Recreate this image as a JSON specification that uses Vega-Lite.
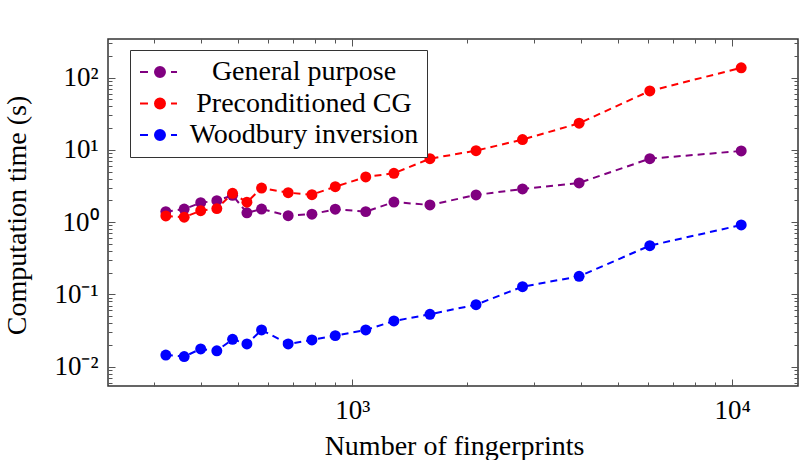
{
  "$schema": "https://vega.github.io/schema/vega-lite/v6.json",
  "width": 690,
  "height": 347,
  "autosize": "none",
  "padding": {"left": 108, "top": 39, "right": 2, "bottom": 74},
  "config": {
    "view": {"stroke": "#333333", "strokeWidth": 1.5},
    "font": "Liberation Serif"
  },
  "data": {
    "values": [
      {"n": 323, "t": 1.40, "method": "General purpose"},
      {"n": 361, "t": 1.52, "method": "General purpose"},
      {"n": 399, "t": 1.86, "method": "General purpose"},
      {"n": 440, "t": 1.98, "method": "General purpose"},
      {"n": 484, "t": 2.35, "method": "General purpose"},
      {"n": 528, "t": 1.35, "method": "General purpose"},
      {"n": 577, "t": 1.52, "method": "General purpose"},
      {"n": 678, "t": 1.23, "method": "General purpose"},
      {"n": 783, "t": 1.29, "method": "General purpose"},
      {"n": 902, "t": 1.51, "method": "General purpose"},
      {"n": 1085, "t": 1.40, "method": "General purpose"},
      {"n": 1287, "t": 1.90, "method": "General purpose"},
      {"n": 1601, "t": 1.73, "method": "General purpose"},
      {"n": 2117, "t": 2.38, "method": "General purpose"},
      {"n": 2806, "t": 2.88, "method": "General purpose"},
      {"n": 3954, "t": 3.49, "method": "General purpose"},
      {"n": 6069, "t": 7.57, "method": "General purpose"},
      {"n": 10561, "t": 9.67, "method": "General purpose"},
      {"n": 323, "t": 1.22, "method": "Preconditioned CG"},
      {"n": 361, "t": 1.17, "method": "Preconditioned CG"},
      {"n": 399, "t": 1.44, "method": "Preconditioned CG"},
      {"n": 440, "t": 1.54, "method": "Preconditioned CG"},
      {"n": 484, "t": 2.51, "method": "Preconditioned CG"},
      {"n": 528, "t": 1.89, "method": "Preconditioned CG"},
      {"n": 577, "t": 2.97, "method": "Preconditioned CG"},
      {"n": 678, "t": 2.56, "method": "Preconditioned CG"},
      {"n": 783, "t": 2.40, "method": "Preconditioned CG"},
      {"n": 902, "t": 3.10, "method": "Preconditioned CG"},
      {"n": 1085, "t": 4.22, "method": "Preconditioned CG"},
      {"n": 1287, "t": 4.75, "method": "Preconditioned CG"},
      {"n": 1601, "t": 7.57, "method": "Preconditioned CG"},
      {"n": 2117, "t": 9.77, "method": "Preconditioned CG"},
      {"n": 2806, "t": 13.9, "method": "Preconditioned CG"},
      {"n": 3954, "t": 23.4, "method": "Preconditioned CG"},
      {"n": 6069, "t": 65.5, "method": "Preconditioned CG"},
      {"n": 10561, "t": 137, "method": "Preconditioned CG"},
      {"n": 323, "t": 0.0145, "method": "Woodbury inversion"},
      {"n": 361, "t": 0.0138, "method": "Woodbury inversion"},
      {"n": 399, "t": 0.0176, "method": "Woodbury inversion"},
      {"n": 440, "t": 0.0166, "method": "Woodbury inversion"},
      {"n": 484, "t": 0.0239, "method": "Woodbury inversion"},
      {"n": 528, "t": 0.0206, "method": "Woodbury inversion"},
      {"n": 577, "t": 0.0322, "method": "Woodbury inversion"},
      {"n": 678, "t": 0.0206, "method": "Woodbury inversion"},
      {"n": 783, "t": 0.0234, "method": "Woodbury inversion"},
      {"n": 902, "t": 0.0269, "method": "Woodbury inversion"},
      {"n": 1085, "t": 0.0322, "method": "Woodbury inversion"},
      {"n": 1287, "t": 0.0429, "method": "Woodbury inversion"},
      {"n": 1601, "t": 0.0531, "method": "Woodbury inversion"},
      {"n": 2117, "t": 0.0721, "method": "Woodbury inversion"},
      {"n": 2806, "t": 0.128, "method": "Woodbury inversion"},
      {"n": 3954, "t": 0.178, "method": "Woodbury inversion"},
      {"n": 6069, "t": 0.473, "method": "Woodbury inversion"},
      {"n": 10561, "t": 0.914, "method": "Woodbury inversion"}
    ]
  },
  "layer": [
    {
      "encoding": {
        "x": {
          "field": "n", "type": "quantitative",
          "scale": {"type": "log", "domain": [227.5, 14900], "nice": false},
          "axis": {
            "orient": "bottom",
            "title": "Number of fingerprints",
            "titleFont": "Liberation Serif", "titleFontSize": 28, "titleFontWeight": "normal", "titleColor": "#000000",
            "titleX": 346, "titleY": 68, "titleBaseline": "alphabetic",
            "domain": false, "grid": false,
            "values": [300, 400, 500, 600, 700, 800, 900, 1000, 2000, 3000, 4000, 5000, 6000, 7000, 8000, 9000, 10000],
            "labelExpr": "datum.value == 1000 ? '10³' : datum.value == 10000 ? '10⁴' : ''",
            "labelFont": "Liberation Serif", "labelFontSize": 27, "labelColor": "#000000",
            "labelPadding": 18, "labelFlush": false, "labelOverlap": false,
            "tickColor": "#555555", "tickWidth": 1,
            "tickSize": {"condition": {"test": "abs(log(datum.value)/LN10 - round(log(datum.value)/LN10)) < 0.000001", "value": -7}, "value": -4}
          }
        },
        "y": {
          "field": "t", "type": "quantitative",
          "scale": {"type": "log", "domain": [0.0054, 343], "nice": false},
          "axis": {
            "orient": "left",
            "title": "Computation time (s)",
            "titleFont": "Liberation Serif", "titleFontSize": 28, "titleFontWeight": "normal", "titleColor": "#000000",
            "titleX": -91, "titleY": 176, "titleBaseline": "middle", "titleAngle": -90,
            "domain": false, "grid": false,
            "values": [0.006, 0.007, 0.008, 0.009, 0.01, 0.02, 0.03, 0.04, 0.05, 0.06, 0.07, 0.08, 0.09, 0.1, 0.2, 0.3, 0.4, 0.5, 0.6, 0.7, 0.8, 0.9, 1, 2, 3, 4, 5, 6, 7, 8, 9, 10, 20, 30, 40, 50, 60, 70, 80, 90, 100, 200, 300],
            "labelExpr": "datum.value == 0.01 ? '10⁻²' : datum.value == 0.1 ? '10⁻¹' : datum.value == 1 ? '10⁰' : datum.value == 10 ? '10¹' : datum.value == 100 ? '10²' : ''",
            "labelFont": "Liberation Serif", "labelFontSize": 27, "labelColor": "#000000",
            "labelPadding": 17, "labelFlush": false, "labelOverlap": false,
            "tickColor": "#555555", "tickWidth": 1,
            "tickSize": {"condition": {"test": "abs(log(datum.value)/LN10 - round(log(datum.value)/LN10)) < 0.000001", "value": -7}, "value": -4}
          }
        },
        "color": {
          "field": "method", "type": "nominal",
          "scale": {"domain": ["General purpose", "Preconditioned CG", "Woodbury inversion"], "range": ["#800080", "#ff0000", "#0000ff"]},
          "legend": {
            "orient": "none", "legendX": 22, "legendY": 11,
            "title": null,
            "strokeColor": "#333333", "fillColor": "#ffffff", "padding": 8,
            "rowPadding": 3.5,
            "labelFont": "Liberation Serif", "labelFontSize": 28, "labelColor": "#000000",
            "labelAlign": "center", "labelOffset": 138, "labelLimit": 400,
            "symbolType": "M-2,0L-0.67,0M2.16,0A0.83,0.83 0 1,1 0.5,0A0.83,0.83 0 1,1 2.16,0ZM3.17,0L4.17,0",
            "symbolSize": 144, "symbolStrokeWidth": 2,
            "encode": {
              "symbols": {
                "update": {
                  "shape": {"value": "M-2,0L-0.67,0M2.16,0A0.83,0.83 0 1,1 0.5,0A0.83,0.83 0 1,1 2.16,0ZM3.17,0L4.17,0"},
                  "size": {"value": 144},
                  "stroke": {"scale": "color", "field": "value"},
                  "fill": {"scale": "color", "field": "value"},
                  "strokeWidth": {"value": 2},
                  "opacity": {"value": 1},
                  "fillOpacity": {"value": 1},
                  "strokeOpacity": {"value": 1}
                }
              }
            }
          }
        }
      },
      "layer": [
        {"mark": {"type": "line", "strokeDash": [7, 5], "strokeWidth": 2}},
        {"mark": {"type": "point", "filled": true, "size": 120, "opacity": 1}}
      ]
    },
    {
      "mark": {"type": "point", "opacity": 0},
      "encoding": {
        "x": {
          "field": "n", "type": "quantitative",
          "scale": {"type": "log", "domain": [227.5, 14900], "nice": false},
          "axis": {
            "orient": "top", "title": null, "labels": false, "domain": false, "grid": false,
            "values": [300, 400, 500, 600, 700, 800, 900, 1000, 2000, 3000, 4000, 5000, 6000, 7000, 8000, 9000, 10000],
            "tickColor": "#555555", "tickWidth": 1,
            "tickSize": {"condition": {"test": "abs(log(datum.value)/LN10 - round(log(datum.value)/LN10)) < 0.000001", "value": -7}, "value": -4}
          }
        },
        "y": {
          "field": "t", "type": "quantitative",
          "scale": {"type": "log", "domain": [0.0054, 343], "nice": false},
          "axis": {
            "orient": "right", "title": null, "labels": false, "domain": false, "grid": false,
            "values": [0.006, 0.007, 0.008, 0.009, 0.01, 0.02, 0.03, 0.04, 0.05, 0.06, 0.07, 0.08, 0.09, 0.1, 0.2, 0.3, 0.4, 0.5, 0.6, 0.7, 0.8, 0.9, 1, 2, 3, 4, 5, 6, 7, 8, 9, 10, 20, 30, 40, 50, 60, 70, 80, 90, 100, 200, 300],
            "tickColor": "#555555", "tickWidth": 1,
            "tickSize": {"condition": {"test": "abs(log(datum.value)/LN10 - round(log(datum.value)/LN10)) < 0.000001", "value": -7}, "value": -4}
          }
        }
      }
    }
  ],
  "resolve": {"axis": {"x": "independent", "y": "independent"}}
}
